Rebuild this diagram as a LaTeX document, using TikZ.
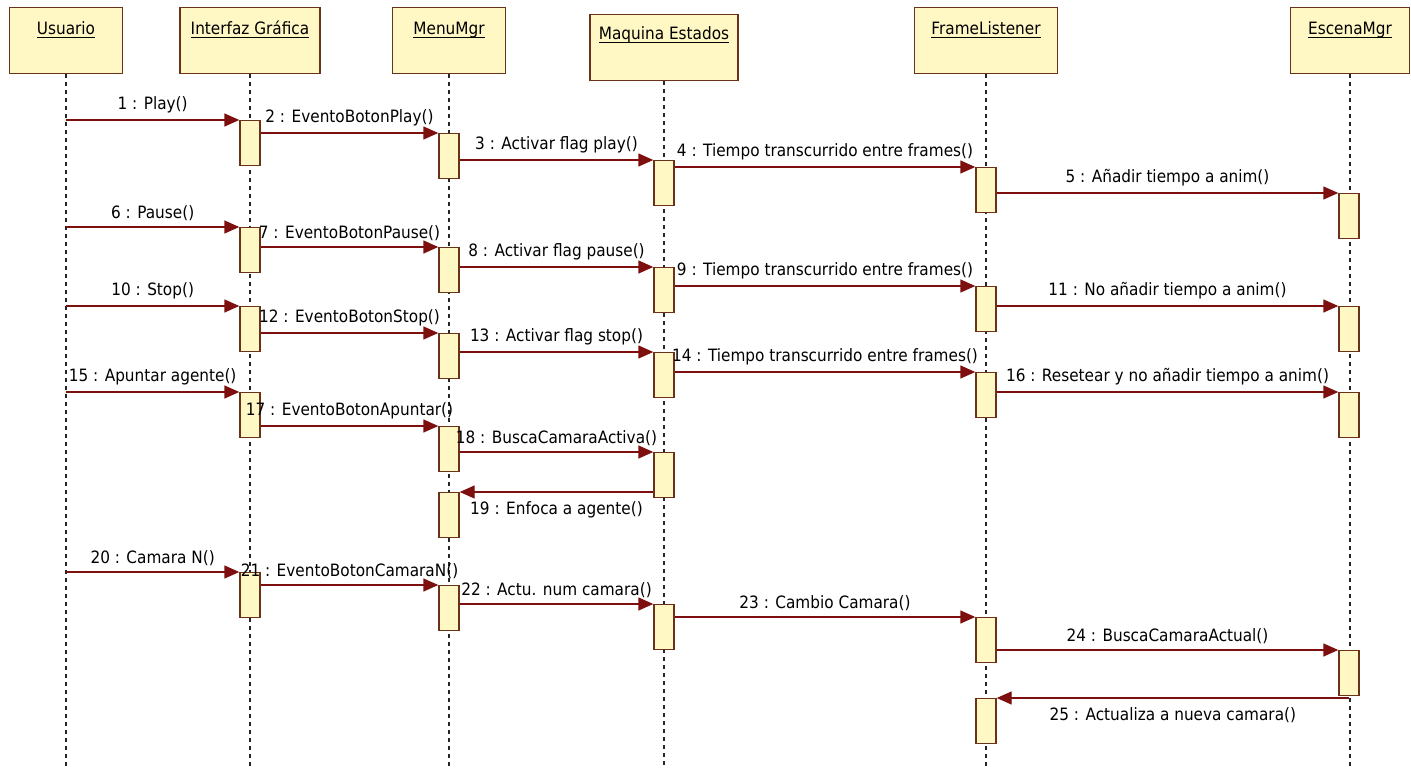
\documentclass[tikz,border=0pt]{standalone}
\usepackage{fontspec}
\setmainfont{DejaVu Sans}[FakeStretch=0.9]
\usetikzlibrary{arrows.meta}
\definecolor{objfill}{RGB}{255,247,196}
\definecolor{objedge}{RGB}{105,50,25}
\definecolor{msgcol}{RGB}{125,15,15}
% underline at a fixed depth below the baseline
\newcommand\nameul[1]{\setbox0=\hbox{#1}\rlap{\rule[-3pt]{\wd0}{1.1pt}}\box0}
\begin{document}
\begin{tikzpicture}[x=1pt,y=-1pt,
  txt/.style={inner sep=0pt,font=\fontsize{17}{20}\selectfont},
  obj/.style={draw=objedge,fill=objfill,line width=1.4pt,minimum height=66pt,anchor=north,inner sep=0pt},
  objname/.style={txt,anchor=base},
  life/.style={draw=black!85,line width=1.3pt,dash pattern=on 4pt off 4pt},
  act/.style={draw=objedge,fill=objfill,line width=1.4pt,minimum width=20pt,minimum height=45pt,anchor=north,inner sep=0pt},
  msg/.style={draw=msgcol,line width=1.4pt,-{Triangle[length=15pt,width=13pt]}},
  lab/.style={txt,midway,above=6pt},
  labb/.style={txt,midway,below=9pt}]
\useasboundingbox[fill=white] (0,0) rectangle (1411,773);
\coordinate (bot) at (0,768);

% objects
\node[obj,minimum width=113pt] (usr) at (66,7) {};
\node[obj,minimum width=140pt] (gui) at (250,7) {};
\node[obj,minimum width=113pt] (mnu) at (449,7) {};
\node[obj,minimum width=148pt] (mqe) at (664,14) {};
\node[obj,minimum width=143pt] (frl) at (986,7) {};
\node[obj,minimum width=119pt] (esc) at (1350,7) {};
\node[objname] (usrT) at ([yshift=-28pt]usr.north) {\nameul{Usuario}};
\node[objname] (guiT) at ([yshift=-28pt]gui.north) {\nameul{Interfaz Gráfica}};
\node[objname] (mnuT) at ([yshift=-28pt]mnu.north) {\nameul{MenuMgr}};
\node[objname] (mqeT) at ([yshift=-26pt]mqe.north) {\nameul{Maquina Estados}};
\node[objname] (frlT) at ([yshift=-28pt]frl.north) {\nameul{FrameListener}};
\node[objname] (escT) at ([yshift=-28pt]esc.north) {\nameul{EscenaMgr}};

% lifelines
\foreach \o in {usr,gui,mnu,mqe,frl,esc}
  \draw[life] (\o.south) -- (\o.south |- bot);

% activations
\node[act] (i1) at (250,120) {};
\node[act] (i2) at (250,227) {};
\node[act] (i3) at (250,306) {};
\node[act] (i4) at (250,392) {};
\node[act] (i5) at (250,572) {};
\node[act] (m1) at (449,133) {};
\node[act] (m2) at (449,247) {};
\node[act] (m3) at (449,333) {};
\node[act] (m4) at (449,426) {};
\node[act] (m5) at (449,492) {};
\node[act] (m6) at (449,585) {};
\node[act] (q1) at (664,160) {};
\node[act] (q2) at (664,267) {};
\node[act] (q3) at (664,352) {};
\node[act] (q4) at (664,452) {};
\node[act] (q5) at (664,604) {};
\node[act] (f1) at (986,167) {};
\node[act] (f2) at (986,286) {};
\node[act] (f3) at (986,372) {};
\node[act] (f4) at (986,617) {};
\node[act] (f5) at (986,698) {};
\node[act] (e1) at (1349,193) {};
\node[act] (e2) at (1349,306) {};
\node[act] (e3) at (1349,392) {};
\node[act] (e4) at (1349,650) {};

% free ends of messages on lifelines
\coordinate (c1) at (66,120);
\coordinate (c6) at (66,227);
\coordinate (c10) at (66,306);
\coordinate (c15) at (66,392);
\coordinate (c20) at (66,572);
\coordinate (c25) at (1349,698);

% messages
\draw[msg] (c1) -- (i1.north west) node[lab] {1 : Play()};
\draw[msg] (i1.east |- m1.north) -- (m1.north west) node[lab] {2 : EventoBotonPlay()};
\draw[msg] (m1.east |- q1.north) -- (q1.north west) node[lab] {3 : Activar flag play()};
\draw[msg] (q1.east |- f1.north) -- (f1.north west) node[lab] {4 : Tiempo transcurrido entre frames()};
\draw[msg] (f1.east |- e1.north) -- (e1.north west) node[lab] {5 : Añadir tiempo a anim()};
\draw[msg] (c6) -- (i2.north west) node[lab] {6 : Pause()};
\draw[msg] (i2.east |- m2.north) -- (m2.north west) node[lab] {7 : EventoBotonPause()};
\draw[msg] (m2.east |- q2.north) -- (q2.north west) node[lab] {8 : Activar flag pause()};
\draw[msg] (q2.east |- f2.north) -- (f2.north west) node[lab] {9 : Tiempo transcurrido entre frames()};
\draw[msg] (c10) -- (i3.north west) node[lab] {10 : Stop()};
\draw[msg] (f2.east |- e2.north) -- (e2.north west) node[lab] {11 : No añadir tiempo a anim()};
\draw[msg] (i3.east |- m3.north) -- (m3.north west) node[lab] {12 : EventoBotonStop()};
\draw[msg] (m3.east |- q3.north) -- (q3.north west) node[lab] {13 : Activar flag stop()};
\draw[msg] (q3.east |- f3.north) -- (f3.north west) node[lab] {14 : Tiempo transcurrido entre frames()};
\draw[msg] (c15) -- (i4.north west) node[lab] {15 : Apuntar agente()};
\draw[msg] (f3.east |- e3.north) -- (e3.north west) node[lab] {16 : Resetear y no añadir tiempo a anim()};
\draw[msg] (i4.east |- m4.north) -- (m4.north west) node[lab] {17 : EventoBotonApuntar()};
\draw[msg] (m4.east |- q4.north) -- (q4.north west) node[lab] {18 : BuscaCamaraActiva()};
\draw[msg] (q4.west |- m5.north) -- (m5.north east) node[labb] {19 : Enfoca a agente()};
\draw[msg] (c20) -- (i5.north west) node[lab] {20 : Camara N()};
\draw[msg] (i5.east |- m6.north) -- (m6.north west) node[lab] {21 : EventoBotonCamaraN()};
\draw[msg] (m6.east |- q5.north) -- (q5.north west) node[lab] {22 : Actu. num camara()};
\draw[msg] (q5.east |- f4.north) -- (f4.north west) node[lab] {23 : Cambio Camara()};
\draw[msg] (f4.east |- e4.north) -- (e4.north west) node[lab] {24 : BuscaCamaraActual()};
\draw[msg] (c25) -- (f5.north east) node[labb] {25 : Actualiza a nueva camara()};
\end{tikzpicture}
\end{document}
